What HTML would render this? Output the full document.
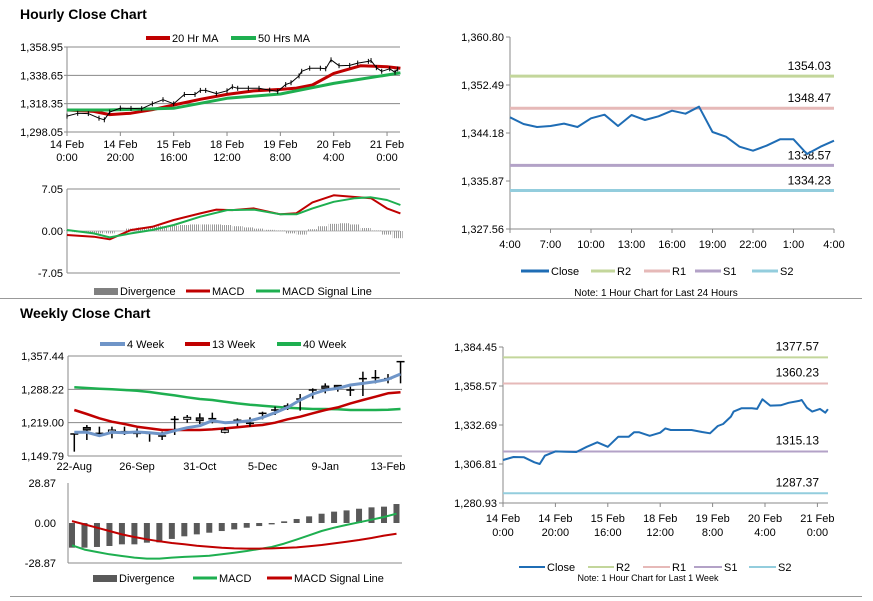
<!DOCTYPE html>
<html><head><meta charset="utf-8"><style>
body{margin:0;background:#fff;}
svg{display:block;font-family:"Liberation Sans",Arial,sans-serif;}
text{fill:#000;}
</style></head><body>
<svg id="c" width="873" height="601" viewBox="0 0 873 601" xmlns="http://www.w3.org/2000/svg">
<defs><pattern id="stripes" width="2" height="4" patternUnits="userSpaceOnUse"><rect x="0" y="0" width="1" height="4" fill="#9a9a9a"/></pattern></defs>
<text x="20" y="19" font-size="14" font-weight="bold">Hourly Close Chart</text>
<text x="20" y="318" font-size="14" font-weight="bold">Weekly Close Chart</text>
<line x1="0" y1="298.5" x2="862" y2="298.5" stroke="#999"/>
<line x1="10" y1="596.5" x2="862" y2="596.5" stroke="#999"/>
</svg>
<script>
// ---------- DATA ----------
const hrHours=[0,4,8,12,14,16,20,24,28,32,36,40,44,48,50,52,56,60,62,64,68,72,76,79,82,84,87,88,91,95,97,99,102,106,109,113,114,116,118,121,123,124];
const hrClose=[1309.45,1311.45,1311.25,1307.95,1306.8,1312.3,1315.2,1314.95,1314.75,1318.25,1321.2,1318.25,1324.95,1324.95,1327.85,1327.85,1325.55,1327.55,1330.45,1329.35,1329.35,1329.35,1328.05,1327.15,1332.05,1333.35,1338.25,1341.55,1343.75,1343.75,1343.35,1349.75,1345.55,1345.75,1347.45,1348.65,1349.25,1344.15,1341.55,1343.35,1340.85,1343.2];
const maHours=[0,10,16,24,32,40,50,60,70,80,86,92,100,110,120,125];
const ma20=[1313.8,1312.8,1310.5,1311.5,1314,1317.4,1321.5,1325,1327.5,1328.6,1329.5,1331.7,1340,1345.5,1344.8,1343.7];
const ma50H=[0,15,40,60,80,100,120,125];
const ma50=[1313.8,1313.8,1315,1322.2,1325.3,1332.9,1338.9,1340.5];
const macdHours=[0,10,16,24,32,40,50,56,62,70,80,86,92,100,108,114,120,125];
const macdH=[-0.67,-0.95,-1.4,0.17,0.7,1.85,2.96,3.6,3.5,3.8,2.8,2.99,4.8,6.0,5.7,5.5,3.8,2.96];
const sigHours=[0,10,16,24,32,40,50,60,70,80,86,92,100,108,114,120,125];
const sigH=[0.17,-0.4,-1.07,-0.4,0.17,1.0,2.4,3.5,3.6,2.8,2.8,3.8,4.9,5.5,5.65,5.2,4.36];
const divH=[0.1,-0.2,-0.3,-0.4,-0.4,0.0,0.4,0.6,0.7,0.8,0.9,1.0,1.1,1.1,1.1,1.0,0.8,0.6,0.4,0.2,0.1,-0.4,-0.6,0.3,0.8,1.2,1.3,1.1,0.5,0.1,-0.6,-1.2];
const hrTicks=["14 Feb|0:00","14 Feb|20:00","15 Feb|16:00","18 Feb|12:00","19 Feb|8:00","20 Feb|4:00","21 Feb|0:00"];
const hrYTicks=[1298.05,1318.35,1338.65,1358.95];
const dayLabels=["4:00","7:00","10:00","13:00","16:00","19:00","22:00","1:00","4:00"];
const dayYTicks=[1327.56,1335.87,1344.18,1352.49,1360.80];
const dayClose=[1346.9,1345.74,1345.22,1345.39,1345.8,1345.22,1346.73,1347.35,1345.39,1347.3,1346.43,1347.07,1348.04,1347.52,1348.73,1344.36,1343.54,1341.81,1341.12,1341.98,1343.09,1343.09,1340.55,1341.81,1342.85];
const dayLevels=[1354.03,1348.47,1338.57,1334.23];
const weekYTicks=[1280.93,1306.81,1332.69,1358.57,1384.45];
const weekLevels=[1377.57,1360.23,1315.13,1287.37];
const wkTicks=["22-Aug","26-Sep","31-Oct","5-Dec","9-Jan","13-Feb"];
const wkYTicks=[1149.79,1219.00,1288.22,1357.44];
const wkClose=[1195.5,1203.8,1196.8,1203.8,1200.3,1196.8,1196.8,1191.3,1225.9,1230.1,1223.2,1227.3,1203.8,1224.5,1217.6,1238.4,1245.3,1253.6,1268.1,1286.8,1290.3,1292.4,1286.8,1310.4,1312.4,1310.4,1345.7];
const wkOpen=[1195.5,1209.0,1196.8,1199.0,1200.3,1196.8,1196.8,1191.3,1225.9,1226.0,1229.0,1227.3,1199.0,1220.0,1217.6,1238.4,1245.3,1253.6,1268.1,1286.8,1295.0,1296.5,1286.8,1310.4,1312.4,1310.4,1345.7];
const wkHigh=[1195.5,1214.1,1210.7,1210.7,1210.7,1207.2,1200.3,1200.3,1232.8,1234.9,1238.4,1239.8,1209.3,1228.0,1230.1,1241.8,1252.2,1259.1,1278.5,1290.3,1300.7,1297.2,1293.8,1324.9,1328.4,1320.0,1345.7];
const wkLow=[1158.8,1183.0,1189.9,1186.5,1193.4,1188.5,1179.5,1183.0,1193.4,1219.0,1216.2,1217.6,1196.8,1212.1,1210.7,1225.9,1234.9,1245.3,1243.9,1268.8,1279.9,1283.4,1274.4,1274.4,1300.7,1300.7,1300.7];
const wk4=[1198.9,1198.9,1192.0,1198.9,1198.2,1199.6,1198.2,1195.4,1202.4,1208.6,1212.7,1223.1,1219.0,1220.4,1223.1,1230.0,1239.7,1250.8,1266.0,1278.5,1286.8,1290.3,1297.2,1300.6,1304.1,1309.0,1320.0];
const wk13=[1245.3,1237.0,1228.0,1221.0,1216.2,1210.7,1207.2,1203.7,1203.7,1203.7,1203.7,1205.1,1207.2,1209.3,1212.1,1214.1,1219.0,1225.9,1231.4,1238.4,1245.3,1250.8,1259.1,1266.0,1273.0,1279.9,1282.0];
const wk40=[1292.4,1291.0,1289.6,1288.2,1286.8,1285.4,1282.7,1279.2,1275.7,1271.6,1268.1,1266.0,1262.6,1259.1,1256.3,1254.3,1252.2,1250.1,1248.7,1247.4,1247.4,1246.7,1245.3,1245.3,1245.3,1246.0,1247.4];
const wkDiv=[-17.8,-17.8,-17.3,-16.6,-15.4,-15.4,-14.2,-14.0,-11.5,-9.6,-8.2,-7.0,-5.8,-4.6,-3.4,-2.2,-1.0,1.2,2.9,4.8,6.7,8.2,9.1,10.3,11.3,11.8,13.7];
const wkMacd=[-16.1,-19.2,-20.9,-22.6,-23.8,-25.0,-25.7,-25.7,-25.0,-24.5,-24.1,-23.6,-22.6,-21.4,-20.2,-18.8,-17.3,-14.9,-12.0,-8.9,-5.8,-3.4,-1.4,0.5,2.4,4.3,6.7];
const wkSig=[1.4,-1.0,-3.4,-5.8,-8.2,-10.1,-11.8,-13.2,-14.4,-15.4,-16.4,-17.1,-17.8,-18.3,-18.5,-18.5,-18.3,-18.0,-17.6,-16.8,-15.9,-14.7,-13.5,-12.3,-10.8,-9.1,-7.7];

// ---------- HELPERS ----------
const svg=document.getElementById('c');
const NS="http://www.w3.org/2000/svg";
function mk(tag,attrs,parent){const e=document.createElementNS(NS,tag);for(const k in attrs)e.setAttribute(k,attrs[k]);(parent||svg).appendChild(e);return e;}
function txt(x,y,s,size,anchor,name){const t=mk('text',{x:x,y:y,'font-size':size||11,'text-anchor':anchor||'start'});t.textContent=s;


return t;}
function lin(a,b,c,d){return v=>c+(v-a)*(d-c)/(b-a);}
function poly(xs,ys,color,w,name){const p=mk('polyline',{points:xs.map((x,i)=>x.toFixed(1)+','+ys[i].toFixed(1)).join(' '),fill:'none',stroke:color,'stroke-width':w,'stroke-linejoin':'round'});


return p;}
function legLine(x1,x2,y,color,w,label,name){const l=mk('line',{x1:x1,y1:y,x2:x2,y2:y,stroke:color,'stroke-width':w});


txt(x2+2,y+4,label,11,'start',name+'-label');}
function legBox(x1,x2,y,color,label,name){const r=mk('rect',{x:x1,y:y-3,width:x2-x1,height:7,fill:color});


txt(x2+2,y+4,label,11,'start',name+'-label');}
function hline(x1,x2,y,color,w,name){const l=mk('line',{x1:x1,y1:y,x2:x2,y2:y,stroke:color,'stroke-width':w});

return l;}
function vline(x,y1,y2,color,w,name){const l=mk('line',{x1:x,y1:y1,x2:x,y2:y2,stroke:color,'stroke-width':w});

return l;}
const fmt=v=>v.toLocaleString('en-US',{minimumFractionDigits:2,maximumFractionDigits:2});

// ---------- HOURLY PRICE ----------
(function(){
const L=67,R=400,T=47,B=132;
const X=lin(0,125,L,L+125*2.667),Y=lin(hrYTicks[0],hrYTicks[hrYTicks.length-1],B,T);
hrYTicks.forEach(v=>{const y=Y(v);hline(L,R,y,'#888',1,'hourly-gridline');txt(L-4,y+4,fmt(v),11,'end','hourly-y-tick');hline(L-3,L,y,'#888',1,'hourly-y-tickmark');});
vline(L,T,B,'#888',1,'hourly-y-axis');
hrTicks.forEach((s,i)=>{const x=X(i*20);vline(x,B,B+4,'#888',1,'hourly-x-tickmark');const p=s.split('|');txt(x,B+16,p[0],11,'middle','hourly-x-tick');txt(x,B+29,p[1],11,'middle','hourly-x-tick');});
poly(maHours.map(X),ma20.map(Y),'#c00000',3,'ma20-line');
poly(ma50H.map(X),ma50.map(Y),'#1eaf50',3,'ma50-line');
poly(hrHours.map(X),hrClose.map(Y),'#000',1,'hourly-close-line');
hrHours.forEach((h,i)=>{vline(X(h),Y(hrClose[i])-2.5,Y(hrClose[i])+2.5,'#000',1,'hourly-candle');});
legLine(146,170,38,'#c00000',4,'20 Hr MA','legend-ma20');
legLine(231,256,38,'#1eaf50',4,'50 Hrs MA','legend-ma50');
})();
// ---------- HOURLY MACD ----------
(function(){
const L=67,R=400,T=189,B=273;
const X=lin(0,125,L,L+125*2.667),Y=lin(-7.05,7.05,B,T);
[7.05,0,-7.05].forEach(v=>{const y=Y(v);hline(L,R,y,v===0?'#bbb':'#888',1,'hourly-macd-gridline');txt(L-4,y+4,v.toFixed(2),11,'end','hourly-macd-y-tick');});
vline(L,T,B,'#888',1,'hourly-macd-y-axis');
divH.forEach((v,i)=>{const x=X(i*4);const y0=Y(0),y1=Y(v);const r=mk('rect',{x:x-5,y:Math.min(y0,y1),width:10,height:Math.abs(y1-y0),fill:'url(#stripes)'});

});
poly(macdHours.map(X),macdH.map(Y),'#c00000',2,'hourly-macd-line');
poly(sigHours.map(X),sigH.map(Y),'#1eaf50',2,'hourly-signal-line');
legBox(94,118,291,'#808080','Divergence','legend-divergence');
legLine(186,210,291,'#c00000',3,'MACD','legend-macd');
legLine(256,280,291,'#1eaf50',3,'MACD Signal Line','legend-signal');
})();
// ---------- 24H CHART ----------
(function(){
const L=510,R=834,T=37,B=229;
const X=lin(0,24,L,R),Y=lin(dayYTicks[0],dayYTicks[dayYTicks.length-1],B,T);
vline(L,T,B,'#888',1,'day-y-axis');hline(L,R,B,'#888',1,'day-x-axis');
dayYTicks.forEach(v=>{const y=Y(v);hline(L-4,L,y,'#888',1,'day-y-tickmark');txt(L-6,y+4,fmt(v),11,'end','day-y-tick');});
dayLabels.forEach((s,i)=>{const x=X(i*3);vline(x,B,B+4,'#888',1,'day-x-tickmark');txt(x,B+19,s,11,'middle','day-x-tick');});
const cols=['#c3d69b','#e6b9b8','#b3a2c7','#93cddd'],nm=['r2','r1','s1','s2'];
dayLevels.forEach((v,i)=>{hline(L,R,Y(v),cols[i],3,'day-level-'+nm[i]);txt(831,Y(v)-6,v.toFixed(2),12,'end','day-level-label-'+nm[i]);});
poly(dayClose.map((v,i)=>X(i)),dayClose.map(Y),'#1f6db5',2,'day-close-line');
legLine(521,549,271,'#1f6db5',3,'Close','legend-close');
legLine(591,615,271,'#c3d69b',3,'R2','legend-r2');
legLine(644,670,271,'#e6b9b8',3,'R1','legend-r1');
legLine(695,721,271,'#b3a2c7',3,'S1','legend-s1');
legLine(752,778,271,'#93cddd',3,'S2','legend-s2');
txt(656,296,'Note: 1 Hour Chart for Last 24 Hours',10,'middle','day-note');
})();
// ---------- WEEK (1H) CHART ----------
(function(){
const L=503,R=828,T=347,B=503;
const X=lin(0,125,L,L+125*2.62),Y=lin(weekYTicks[0],weekYTicks[weekYTicks.length-1],B,T);
vline(L,T,B,'#888',1,'week-y-axis');hline(L,R,B,'#888',1,'week-x-axis');
weekYTicks.forEach(v=>{const y=Y(v);hline(L-4,L,y,'#888',1,'week-y-tickmark');txt(L-6,y+4,fmt(v),11,'end','week-y-tick');});
hrTicks.forEach((s,i)=>{const x=X(i*20);vline(x,B,B+4,'#888',1,'week-x-tickmark');const p=s.split('|');txt(x,B+19,p[0],11,'middle','week-x-tick');txt(x,B+33,p[1],11,'middle','week-x-tick');});
const cols=['#c3d69b','#e6b9b8','#b3a2c7','#93cddd'],nm=['r2','r1','s1','s2'];
weekLevels.forEach((v,i)=>{hline(L,R,Y(v),cols[i],2,'week-level-'+nm[i]);txt(819,Y(v)-7,v.toFixed(2),12,'end','week-level-label-'+nm[i]);});
poly(hrHours.map(X),hrClose.map(Y),'#1f6db5',2,'week-close-line');
legLine(519,545,567,'#1f6db5',2,'Close','legend-week-close');
legLine(588,614,567,'#c3d69b',2,'R2','legend-week-r2');
legLine(643,670,567,'#e6b9b8',2,'R1','legend-week-r1');
legLine(694,722,567,'#b3a2c7',2,'S1','legend-week-s1');
legLine(749,776,567,'#93cddd',2,'S2','legend-week-s2');
txt(648,581,'Note: 1 Hour Chart for Last 1 Week',9,'middle','week-note');
})();
// ---------- WEEKLY PRICE ----------
(function(){
const L=68,R=402,T=356,B=456;
const X=lin(0,25,74.3,388),Y=lin(wkYTicks[0],wkYTicks[wkYTicks.length-1],B,T);
wkYTicks.forEach(v=>{const y=Y(v);hline(L,R,y,'#888',1,'weekly-gridline');txt(L-4,y+4,fmt(v),11,'end','weekly-y-tick');});
vline(L,T,B,'#888',1,'weekly-y-axis');
wkTicks.forEach((s,i)=>{const x=X(i*5);txt(x,B+14,s,11,'middle','weekly-x-tick');});
poly(wk40.map((v,i)=>X(i)),wk40.map(Y),'#1eaf50',2.5,'wk40-line');
poly(wk13.map((v,i)=>X(i)),wk13.map(Y),'#c00000',2.5,'wk13-line');
wkClose.forEach((c,i)=>{const x=X(i);vline(x,Y(wkHigh[i]),Y(wkLow[i]),'#000',1.5,'weekly-candle-wick');
const o=wkOpen[i];
if(Math.abs(o-c)>1){const r=mk('rect',{x:x-3.5,y:Y(Math.max(o,c)),width:7,height:Math.abs(Y(o)-Y(c)),fill:o>c?'#404040':'#fff',stroke:'#000','stroke-width':1});

}
else hline(x-4,x+4,Y(c),'#000',1.5,'weekly-candle-body');});
poly(wk4.map((v,i)=>X(i)),wk4.map(Y),'#6f95c8',3,'wk4-line');
legLine(100,125,344,'#6f95c8',4,'4 Week','legend-wk4');
legLine(185,210,344,'#c00000',4,'13 Week','legend-wk13');
legLine(277,301,344,'#1eaf50',4,'40 Week','legend-wk40');
})();
// ---------- WEEKLY MACD ----------
(function(){
const L=68,R=402,T=483,B=563;
const X=lin(0,25,72,384),Y=lin(-28.87,28.87,B,T);
[28.87,0,-28.87].forEach(v=>{const y=Y(v);txt(L-12,y+4,v.toFixed(2),11,'end','weekly-macd-y-tick');});
hline(L,R,B,'#888',1,'weekly-macd-baseline');
vline(L,T,B,'#888',1,'weekly-macd-y-axis');
wkDiv.forEach((v,i)=>{const x=X(i);const y0=Y(0),y1=Y(v);const r=mk('rect',{x:x-3,y:Math.min(y0,y1),width:6,height:Math.max(1,Math.abs(y1-y0)),fill:'#595959'});

});
poly(wkMacd.map((v,i)=>X(i)),wkMacd.map(Y),'#1eaf50',2,'weekly-macd-line');
poly(wkSig.map((v,i)=>X(i)),wkSig.map(Y),'#c00000',2,'weekly-signal-line');
legBox(93,117,578,'#595959','Divergence','legend-weekly-divergence');
legLine(193,217,578,'#1eaf50',3,'MACD','legend-weekly-macd');
legLine(267,292,578,'#c00000',3,'MACD Signal Line','legend-weekly-signal');
})();
</script>
</body></html>
